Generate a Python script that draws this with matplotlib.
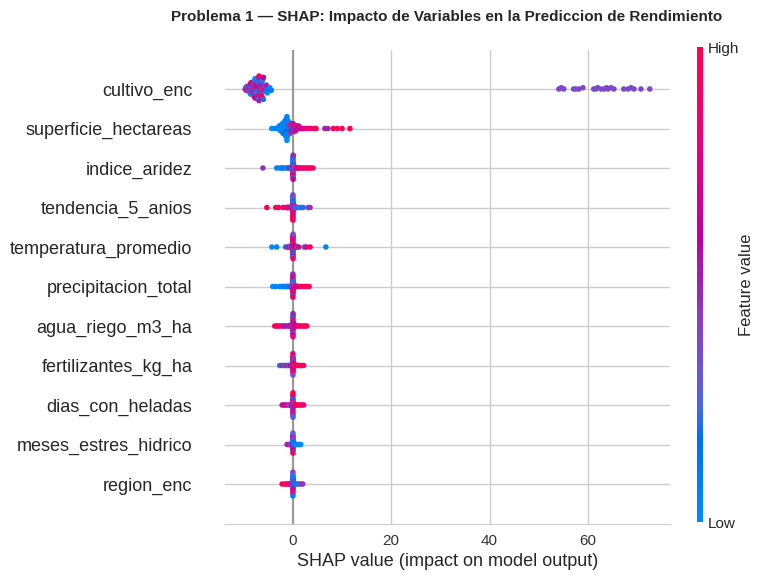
import numpy as np
import matplotlib
matplotlib.use("Agg")
import matplotlib.pyplot as plt
from matplotlib.colors import LinearSegmentedColormap
import matplotlib.cm as cm

plt.rcParams['font.family'] = ['Liberation Sans', 'DejaVu Sans']

title = "Problema 1 \u2014 SHAP: Impacto de Variables en la Prediccion de Rendimiento"
xlabel = "SHAP value (impact on model output)"
cbar_label = "Feature value"
cbar_ticklabels = ["Low", "High"]

# features from top (most important) to bottom
features = ["cultivo_enc", "superficie_hectareas", "indice_aridez", "tendencia_5_anios",
            "temperatura_promedio", "precipitacion_total", "agua_riego_m3_ha",
            "fertilizantes_kg_ha", "dias_con_heladas", "meses_estres_hidrico", "region_enc"]

shap_cultivo_enc = [
    -9.7, -9.6, -9.5, -9.4, -9.2, -9.1, -9.0,
    -8.9, -8.8, -8.8, -8.7, -8.6, -8.6, -8.5, -8.4, -8.4, -8.3, -8.2, -8.2,
    -8.1, -8.1, -8.0, -8.0, -7.9, -7.9, -7.8, -7.8, -7.7, -7.7, -7.7, -7.6, -7.6, -7.5, -7.5, -7.5, -7.4, -7.4,
    -7.3, -7.3, -7.3, -7.2, -7.2, -7.1, -7.1, -7.1, -7.0, -7.0, -6.9, -6.9, -6.9, -6.8, -6.8, -6.7, -6.7,
    -6.6, -6.6, -6.6, -6.5, -6.5,
    -6.4, -6.4, -6.3, -6.3, -6.2, -6.2, -6.1, -6.0, -6.0, -5.9, -5.8, -5.7,
    -5.6, -5.5, -5.4, -5.2, -5.0, -4.7, -4.4,
    54.1, 54.6, 55.1, 57.1, 57.6, 58.2, 59.0, 61.2, 61.6, 62.0, 62.7, 63.3, 63.8, 64.1, 64.7, 65.3,
    67.3, 68.2, 68.8, 69.4, 70.8, 72.6]
fval_cultivo_enc = [
    0.62, 0.0, 0.75, 0.25, 1.0, 0.5, 0.12, 0.88, 0.38, 0.12, 0.75, 0.62, 0.0,
    1.0, 0.5, 0.25, 0.75, 0.38, 0.12, 0.62, 0.88, 0.0, 0.5, 0.75, 0.38, 0.12,
    0.88, 0.25, 0.62, 0.0, 0.75, 0.38, 1.0, 0.5, 0.12, 0.62, 0.25, 0.88, 0.0,
    0.5, 0.88, 0.25, 1.0, 0.38, 0.62, 0.12, 0.0, 0.75, 0.5, 0.88, 0.38, 0.25,
    0.62, 1.0, 0.0, 0.5, 0.75, 0.12, 0.38, 0.62, 0.5, 0.0, 0.88, 0.25, 1.0,
    0.25, 0.12, 0.62, 0.0, 0.5, 0.88, 0.38, 0.12, 0.5, 0.0, 0.12, 0.0, 0.12,
    0.38, 0.38, 0.38, 0.38, 0.38, 0.38, 0.38, 0.38, 0.38, 0.38, 0.38,
    0.38, 0.38, 0.38, 0.38, 0.38, 0.38, 0.38, 0.38, 0.38, 0.38, 0.38]

shap_superficie_hectareas = [
    -4.3, -3.6, -3.3, -2.98, -2.82, -2.82, -2.66, -2.66,
    -2.5, -2.5, -2.5, -2.34, -2.34, -2.34, -2.18, -2.18, -2.18, -2.18,
    -2.02, -2.02, -2.02, -2.02, -2.02, -1.86, -1.86, -1.86, -1.86, -1.86,
    -1.7, -1.7, -1.7, -1.7, -1.7, -1.7, -1.54, -1.54, -1.54, -1.54, -1.54, -1.54, -1.54,
    -1.38, -1.38, -1.38, -1.38, -1.38, -1.38, -1.38, -1.38,
    -1.22, -1.22, -1.22, -1.22, -1.22, -1.22, -1.22, -1.22, -1.22, -1.22, -1.22,
    -1.06, -1.06, -1.06, -1.06, -1.06, -1.06, -1.06, -0.9, -0.9, -0.9, -0.9, -0.9, -0.9,
    -0.74, -0.74, -0.74, -0.74, -0.74, -0.58, -0.58, -0.58, -0.58, -0.58,
    -0.42, -0.42, -0.42, -0.42, -0.26, -0.26, -0.26, -0.26, -0.1, -0.1, -0.1, -0.1,
    0.06, 0.06, 0.06, 0.06, 0.22, 0.22, 0.22, 0.38, 0.38, 0.38,
    0.54, 0.54, 0.54, 0.7, 0.7, 0.86, 0.86, 1.02, 1.02, 1.18, 1.18,
    1.5, 1.8, 2.1, 2.5, 3.0, 3.6, 4.3, 4.7,
    6.5, 7.1, 8.2, 9.0, 10.0, 11.6]
fval_superficie_hectareas = [
    0.0, 0.05, 0.1, 0.0, 0.05, 0.0, 0.1, 0.0,
    0.0, 0.1, 0.05, 0.0, 0.15, 0.05, 0.0, 0.1, 0.05, 0.0,
    0.05, 0.0, 0.1, 0.0, 0.2, 0.0, 0.05, 0.15, 0.0, 0.1,
    0.0, 0.1, 0.05, 0.0, 0.15, 0.0, 0.05, 0.0, 0.1, 0.45, 0.0, 0.05, 0.1,
    0.0, 0.05, 0.1, 0.0, 0.6, 0.05, 0.0, 0.1,
    0.05, 0.0, 0.1, 0.0, 0.05, 0.15, 0.0, 0.1, 0.0, 0.05, 0.0,
    0.0, 0.1, 0.7, 0.05, 0.0, 0.15, 0.0, 0.05, 0.0, 0.1, 0.5, 0.0, 0.05,
    0.1, 0.0, 0.65, 0.05, 0.0, 0.0, 0.8, 0.1, 0.05, 0.4,
    0.0, 0.7, 0.1, 0.5, 0.85, 0.05, 0.6, 0.0, 0.75, 0.1, 0.55, 0.9,
    0.5, 0.7, 0.1, 0.55, 0.75, 0.45, 0.6, 0.5, 0.8, 0.4,
    0.65, 0.45, 0.75, 0.5, 0.8, 0.6, 0.45, 0.7, 0.85, 0.55, 0.75,
    0.7, 0.8, 0.6, 0.85, 0.75, 0.9, 0.8, 1.0,
    0.5, 0.5, 1.0, 0.95, 1.0, 1.0]

shap_indice_aridez = [
    -6.1, -3.3, -2.7, -2.3, -2.0, -1.6, -1.2, -0.9, -0.6,
    -0.4, -0.3, -0.25, -0.2, -0.15, -0.12, -0.1, -0.08, -0.06, -0.05, -0.04, -0.03, -0.02, -0.02,
    -0.01, -0.01, 0.0, 0.0, 0.0, 0.0, 0.0, 0.01, 0.01, 0.02, 0.02, 0.03, 0.04, 0.05, 0.06, 0.08,
    0.1, 0.12, 0.15, 0.2, 0.25, 0.3, 0.4,
    0.7, 1.0, 1.3, 1.6, 2.0, 2.4, 2.8, 3.2, 3.6, 4.1]
fval_indice_aridez = [
    0.45, 0.05, 0.1, 0.0, 0.15, 0.05, 0.3, 0.1, 0.6,
    0.1, 0.8, 0.0, 0.4, 0.5, 0.05, 1.0, 0.3, 0.2, 0.85, 0.0, 0.6, 0.35, 0.1,
    0.75, 0.4, 0.0, 0.9, 0.15, 0.45, 0.05, 0.65, 0.05, 0.8, 0.35, 0.25, 0.1, 0.7, 0.5, 0.0,
    0.85, 0.25, 0.9, 0.6, 0.05, 0.8, 0.3,
    0.7, 0.85, 0.6, 0.9, 1.0, 0.75, 0.95, 0.85, 1.0, 0.9]

shap_tendencia_5_anios = [
    -5.3, -3.5, -2.9, -2.0, -1.4, -1.2, -1.0, -0.8, -0.6, -0.5,
    -0.35, -0.3, -0.22, -0.18, -0.15, -0.11, -0.09, -0.07, -0.06, -0.05, -0.04, -0.03, -0.03, -0.02,
    -0.01, -0.01, 0.0, 0.0, 0.0, 0.0, 0.0, 0.0, 0.01, 0.01, 0.02, 0.03, 0.04, 0.05, 0.07, 0.09,
    0.11, 0.14, 0.18, 0.22, 0.28, 0.35, 0.45,
    0.5, 0.6, 0.8, 1.0, 1.4, 1.7, 2.1, 3.1, 3.5]
fval_tendencia_5_anios = [
    1.0, 1.0, 0.95, 0.85, 0.9, 0.8, 0.95, 0.75, 0.85, 0.6,
    0.9, 0.3, 0.75, 0.1, 0.6, 1.0, 0.45, 0.85, 0.2, 0.7, 0.95, 0.05, 0.55, 0.8,
    0.35, 1.0, 0.65, 0.15, 0.9, 0.5, 0.75, 0.0, 0.85, 0.4, 1.0, 0.6, 0.25, 0.8, 0.45, 0.9,
    0.1, 0.7, 0.55, 0.3, 0.85, 0.2, 0.5,
    0.3, 0.1, 0.35, 0.2, 0.05, 0.3, 0.1, 0.45, 0.45]

shap_temperatura_promedio = [
    -4.3, -3.3, -1.5, -1.0, -0.8, -0.6, -0.5,
    -0.4, -0.28, -0.21, -0.16, -0.13, -0.1, -0.08, -0.06, -0.05, -0.04, -0.03, -0.02, -0.02, -0.02,
    -0.01, -0.01, 0.0, 0.0, 0.0, 0.0, 0.0, 0.01, 0.01, 0.01, 0.02, 0.03, 0.04, 0.06, 0.07, 0.09,
    0.12, 0.16, 0.2, 0.26, 0.32, 0.38, 0.45,
    0.5, 0.7, 0.9, 1.2, 2.3, 2.7, 3.5, 6.7]
fval_temperatura_promedio = [
    0.0, 0.05, 0.1, 0.85, 0.75, 0.9, 0.3,
    0.2, 0.85, 0.5, 1.0, 0.05, 0.7, 0.9, 0.4, 0.15, 0.8, 0.6, 0.95, 0.0, 0.75,
    0.5, 0.85, 0.3, 1.0, 0.65, 0.1, 0.9, 0.55, 0.8, 0.05, 0.7, 0.95, 0.35, 0.6, 0.85, 0.2,
    1.0, 0.45, 0.75, 0.1, 0.9, 0.5, 0.65,
    0.6, 0.85, 0.1, 0.9, 0.05, 0.8, 0.95, 0.05]

shap_precipitacion_total = [
    -4.1, -3.5, -2.7, -2.3, -2.0, -1.7, -1.4, -1.2, -1.0, -0.8, -0.6, -0.5,
    -0.38, -0.3, -0.24, -0.19, -0.14, -0.11, -0.09, -0.07, -0.05, -0.04, -0.04, -0.03, -0.02, -0.02,
    -0.01, -0.01, 0.0, 0.0, 0.0, 0.0, 0.0, 0.0, 0.01, 0.01, 0.02, 0.02, 0.03, 0.05, 0.07, 0.09,
    0.12, 0.15, 0.19, 0.24, 0.3, 0.36, 0.42,
    0.5, 0.7, 1.0, 1.3, 1.7, 2.1, 2.5, 2.8, 3.3]
fval_precipitacion_total = [
    0.0, 0.05, 0.1, 0.0, 0.05, 0.15, 0.0, 0.1, 0.05, 0.2, 0.0, 0.1,
    0.1, 0.7, 0.95, 0.3, 0.85, 0.0, 0.6, 1.0, 0.45, 0.8, 0.15, 0.9, 0.55, 0.05,
    0.75, 1.0, 0.35, 0.85, 0.2, 0.65, 0.95, 0.5, 0.0, 0.8, 0.4, 1.0, 0.7, 0.1, 0.9, 0.55,
    0.25, 0.85, 0.6, 0.95, 0.3, 0.75, 0.9,
    0.8, 0.6, 0.9, 0.75, 1.0, 0.95, 0.85, 1.0, 0.95]

shap_agua_riego_m3_ha = [
    -3.7, -3.3, -3.0, -2.6, -2.2, -1.8, -1.5, -1.1, -0.8, -0.6,
    -0.42, -0.33, -0.26, -0.2, -0.16, -0.12, -0.1, -0.08, -0.06, -0.05, -0.04, -0.03, -0.02, -0.02,
    -0.01, -0.01, 0.0, 0.0, 0.0, 0.0, 0.0, 0.01, 0.01, 0.02, 0.02, 0.03, 0.04, 0.05, 0.07, 0.09,
    0.11, 0.14, 0.18, 0.23, 0.28, 0.34, 0.4,
    0.5, 0.8, 1.1, 1.4, 1.8, 2.1, 2.5, 2.8]
fval_agua_riego_m3_ha = [
    1.0, 0.9, 0.95, 0.8, 0.85, 0.6, 0.5, 0.7, 0.4, 0.6,
    0.75, 0.4, 0.95, 0.1, 0.6, 0.85, 0.3, 1.0, 0.5, 0.05, 0.8, 0.65, 0.2, 0.9,
    0.45, 0.7, 0.1, 0.0, 0.55, 0.35, 0.35, 0.95, 0.6, 0.15, 0.8, 0.5, 1.0, 0.25, 0.7, 0.9,
    0.4, 0.05, 0.85, 0.6, 0.3, 0.95, 0.75,
    0.7, 0.8, 0.9, 0.85, 1.0, 0.9, 0.95, 1.0]

shap_fertilizantes_kg_ha = [
    -2.7, -2.2, -1.8, -1.4, -1.0, -0.7, -0.5,
    -0.36, -0.29, -0.23, -0.18, -0.14, -0.11, -0.09, -0.07, -0.06, -0.05, -0.04, -0.03, -0.03, -0.02,
    -0.01, -0.01, 0.0, 0.0, 0.0, 0.0, 0.0, 0.01, 0.01, 0.02, 0.02, 0.03, 0.04, 0.05, 0.06, 0.08,
    0.1, 0.13, 0.17, 0.21, 0.26, 0.32, 0.38,
    0.5, 0.8, 1.2, 1.5, 1.8, 2.2]
fval_fertilizantes_kg_ha = [
    0.0, 0.85, 0.05, 0.9, 0.2, 0.1, 0.6,
    0.9, 0.15, 0.7, 1.0, 0.4, 0.85, 0.05, 0.6, 0.95, 0.3, 0.8, 0.5, 1.0, 0.2,
    0.75, 0.9, 0.55, 0.1, 0.85, 0.65, 1.0, 0.35, 0.8, 0.0, 0.95, 0.6, 0.25, 0.9, 0.45, 0.75,
    0.1, 1.0, 0.55, 0.85, 0.2, 0.7, 0.95,
    0.9, 1.0, 0.85, 1.0, 0.95, 0.9]

shap_dias_con_heladas = [
    -2.2, -1.8, -1.5, -1.1, -0.8, -0.6,
    -0.4, -0.31, -0.25, -0.19, -0.15, -0.12, -0.09, -0.07, -0.06, -0.05, -0.04, -0.03, -0.02, -0.02,
    -0.01, -0.01, 0.0, 0.0, 0.0, 0.0, 0.0, 0.01, 0.01, 0.02, 0.02, 0.03, 0.04, 0.05, 0.07, 0.09,
    0.12, 0.15, 0.19, 0.24, 0.29, 0.35, 0.42,
    0.5, 0.8, 1.1, 1.5, 1.8, 2.2]
fval_dias_con_heladas = [
    0.5, 0.75, 0.85, 0.5, 0.4, 0.3,
    0.45, 0.9, 0.2, 0.7, 1.0, 0.35, 0.8, 0.05, 0.6, 0.95, 0.5, 0.15, 0.85, 0.4,
    0.75, 1.0, 0.3, 0.65, 0.9, 0.1, 0.55, 0.8, 0.45, 1.0, 0.25, 0.7, 0.95, 0.5, 0.0, 0.85,
    0.6, 0.35, 0.9, 0.2, 0.75, 0.5, 1.0,
    0.9, 1.0, 0.85, 0.95, 1.0, 0.8]

shap_meses_estres_hidrico = [
    -1.2, -0.9, -0.7, -0.5,
    -0.35, -0.28, -0.22, -0.17, -0.13, -0.1, -0.08, -0.06, -0.05, -0.04, -0.03, -0.03, -0.02, -0.02,
    -0.01, -0.01, 0.0, 0.0, 0.0, 0.0, 0.0, 0.0, 0.01, 0.01, 0.02, 0.02, 0.03, 0.04, 0.06, 0.08,
    0.1, 0.13, 0.17, 0.22, 0.27, 0.33, 0.4,
    0.5, 0.8, 1.1, 1.4, 1.6]
fval_meses_estres_hidrico = [
    0.45, 0.5, 0.8, 0.3,
    0.3, 0.6, 0.05, 0.85, 0.45, 0.15, 0.7, 0.5, 0.0, 0.9, 0.35, 0.65, 0.1, 0.55,
    0.8, 0.25, 0.45, 0.0, 0.7, 0.4, 0.15, 0.6, 0.95, 0.3, 0.5, 0.05, 0.75, 0.4, 0.2, 0.55,
    0.1, 0.65, 0.35, 0.0, 0.5, 0.05, 0.1,
    0.05, 0.0, 0.1, 0.05, 0.0]

shap_region_enc = [
    -2.2, -1.6, -1.2, -0.9, -0.6,
    -0.38, -0.3, -0.23, -0.18, -0.14, -0.11, -0.09, -0.07, -0.05, -0.04, -0.04, -0.03, -0.02, -0.02,
    -0.01, -0.01, 0.0, 0.0, 0.0, 0.0, 0.0, 0.0, 0.01, 0.01, 0.02, 0.03, 0.03, 0.04, 0.06, 0.08,
    0.11, 0.14, 0.18, 0.23, 0.29, 0.35, 0.43,
    0.5, 0.8, 1.2, 1.6, 2.0]
fval_region_enc = [
    1.0, 0.95, 0.85, 0.9, 0.6,
    0.85, 0.2, 0.6, 0.35, 0.4, 0.05, 0.75, 0.5, 1.0, 0.3, 0.8, 0.15, 0.45, 0.9,
    0.45, 0.0, 0.4, 0.55, 0.25, 0.85, 0.4, 0.1, 0.6, 0.35, 0.35, 0.5, 0.75, 0.05, 0.9, 0.2,
    0.55, 0.8, 0.3, 0.45, 0.0, 0.65, 0.15,
    0.1, 0.05, 0.2, 0.4, 0.45]

shap_rows = [shap_cultivo_enc, shap_superficie_hectareas, shap_indice_aridez, shap_tendencia_5_anios,
             shap_temperatura_promedio, shap_precipitacion_total, shap_agua_riego_m3_ha,
             shap_fertilizantes_kg_ha, shap_dias_con_heladas, shap_meses_estres_hidrico, shap_region_enc]
fval_rows = [fval_cultivo_enc, fval_superficie_hectareas, fval_indice_aridez, fval_tendencia_5_anios,
             fval_temperatura_promedio, fval_precipitacion_total, fval_agua_riego_m3_ha,
             fval_fertilizantes_kg_ha, fval_dias_con_heladas, fval_meses_estres_hidrico, fval_region_enc]

for name, s, f in zip(features, shap_rows, fval_rows):
    if len(s) != len(f):
        raise ValueError(f"{name}: {len(s)} shap vs {len(f)} fval")


# ---- SHAP red_blue colormap (LCH interpolation) ----
def lch_to_rgb(l, c, h):
    a = c * np.cos(h); b = c * np.sin(h)
    fy = (l + 16) / 116; fx = fy + a / 500; fz = fy - b / 200
    def finv(t):
        return t ** 3 if t > 6 / 29 else 3 * (6 / 29) ** 2 * (t - 4 / 29)
    xyz = np.array([0.95047 * finv(fx), finv(fy), 1.08883 * finv(fz)])
    M = np.array([[3.2406, -1.5372, -0.4986], [-0.9689, 1.8758, 0.0415], [0.0557, -0.2040, 1.0570]])
    lin = M @ xyz
    rgb = np.where(lin > 0.0031308, 1.055 * np.abs(lin) ** (1 / 2.4) - 0.055, 12.92 * lin)
    return np.clip(rgb, 0, 1)

blue_lch = [54., 70., 4.6588]
red_lch = [54., 90., 0.35470565 + 2 * np.pi]
l_mid = 40.
nsteps = 100
l_vals = list(np.linspace(blue_lch[0], l_mid, nsteps // 2)) + list(np.linspace(l_mid, red_lch[0], nsteps // 2))
c_vals = np.linspace(blue_lch[1], red_lch[1], nsteps)
h_vals = np.linspace(blue_lch[2], red_lch[2], nsteps)
cols = [lch_to_rgb(l, c, h) for l, c, h in zip(l_vals, c_vals, h_vals)]
red_blue = LinearSegmentedColormap.from_list("red_blue", cols)


def swarm_offsets(vals, row_height=0.4, nbins=100):
    vals = np.asarray(vals, float)
    quant = np.round(nbins * (vals - vals.min()) / (vals.max() - vals.min() + 1e-8))
    inds = np.argsort(quant, kind="stable")
    layer = 0
    last = -1
    ys = np.zeros(len(vals))
    for ind in inds:
        if quant[ind] != last:
            layer = 0
        ys[ind] = np.ceil(layer / 2) * ((layer % 2) * 2 - 1)
        layer += 1
        last = quant[ind]
    ys *= 0.9 * (row_height / np.max(ys + 1))
    return ys


W, H = 763, 579
fig = plt.figure(figsize=(W / 100, H / 100), dpi=100)
ax = fig.add_axes([225 / W, 1 - 523.5 / H, 445 / W, 474 / H])

n = len(features)
text_color = "#262626"
for i, (s, f) in enumerate(zip(shap_rows, fval_rows)):
    pos = n - 1 - i
    ys = swarm_offsets(s)
    ax.scatter(s, pos + ys, c=f, cmap=red_blue, vmin=0, vmax=1, s=16, linewidths=0, zorder=3)

ax.axvline(0, color="#999999", lw=1.5, zorder=2)
ax.set_ylim(-1, n)
ax.set_yticks(range(n))
ax.set_yticklabels(features[::-1], fontsize=13, color=text_color)
ax.tick_params(axis="y", length=0, pad=23.5)
ax.tick_params(axis="x", length=0, pad=7.5, labelsize=11, labelcolor="#333333")
ax.set_xlabel(xlabel, fontsize=13, color=text_color, labelpad=4)
ax.grid(True, color="#cccccc", lw=1)
ax.set_axisbelow(True)
for sp in ["left", "top", "right"]:
    ax.spines[sp].set_visible(False)
ax.spines["bottom"].set_color("#cccccc")

cax = fig.add_axes([697 / W, 1 - 522 / H, 6 / W, 475 / H])
m = cm.ScalarMappable(cmap=red_blue)
m.set_array([0, 1])
cb = fig.colorbar(m, cax=cax, ticks=[0, 1])
cb.set_ticklabels(cbar_ticklabels)
cb.ax.tick_params(labelsize=11, length=0, labelcolor=text_color)
cb.set_label(cbar_label, size=12, labelpad=0, color=text_color)
cb.outline.set_visible(False)

fig.text(447 / W, 1 - 17 / H, title, ha="center", va="center", fontsize=11,
         fontweight="bold", color=text_color)

fig.savefig("out.png", dpi=100)
